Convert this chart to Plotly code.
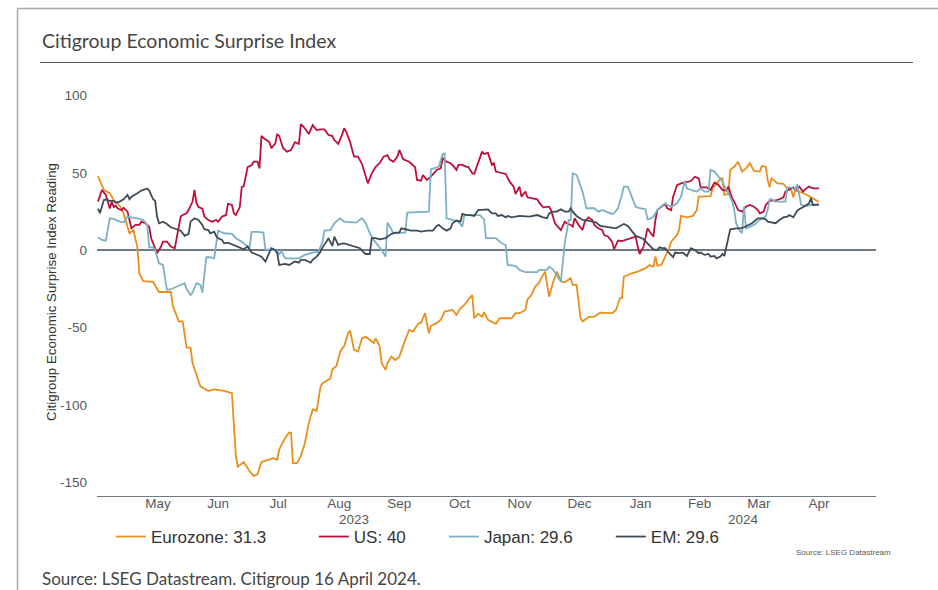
import plotly.graph_objects as go
import pandas as pd

# ---------------- data ----------------
eu_dates = """2023-04-16 2023-04-19 2023-04-22 2023-04-24 2023-04-27 2023-04-29 2023-05-01 2023-05-02 2023-05-04 2023-05-06
2023-05-07 2023-05-09 2023-05-14 2023-05-17 2023-05-23 2023-05-24 2023-05-27 2023-05-29 2023-05-31 2023-06-02
2023-06-03 2023-06-05 2023-06-07 2023-06-11 2023-06-14 2023-06-19 2023-06-23 2023-06-25 2023-06-26 2023-06-29
2023-07-02 2023-07-04 2023-07-06 2023-07-08 2023-07-11 2023-07-14 2023-07-16 2023-07-17 2023-07-20 2023-07-22
2023-07-23 2023-07-24 2023-07-26 2023-07-28 2023-07-30 2023-08-01 2023-08-03 2023-08-05 2023-08-07 2023-08-08
2023-08-12 2023-08-13 2023-08-15 2023-08-17 2023-08-19 2023-08-21 2023-08-22 2023-08-24 2023-08-26 2023-08-28
2023-08-30 2023-09-01 2023-09-03 2023-09-04 2023-09-06 2023-09-07 2023-09-09 2023-09-10 2023-09-12 2023-09-14
2023-09-16 2023-09-19 2023-09-21 2023-09-23 2023-09-24 2023-09-26 2023-09-27 2023-09-29 2023-10-01 2023-10-02
2023-10-05 2023-10-07 2023-10-09 2023-10-13 2023-10-15 2023-10-17 2023-10-19 2023-10-23 2023-10-24 2023-10-26
2023-10-28 2023-10-29 2023-10-31 2023-11-04 2023-11-06 2023-11-12 2023-11-14 2023-11-16 2023-11-19 2023-11-20
2023-11-22 2023-11-24 2023-11-26 2023-11-27 2023-11-29 2023-12-01 2023-12-03 2023-12-05 2023-12-07 2023-12-09
2023-12-12 2023-12-13 2023-12-15 2023-12-17 2023-12-18 2023-12-21 2023-12-24 2023-12-27 2024-01-02 2024-01-04
2024-01-06 2024-01-07 2024-01-08 2024-01-10 2024-01-12 2024-01-15 2024-01-19 2024-01-21 2024-01-23 2024-01-24
2024-01-25 2024-01-27 2024-01-29 2024-01-31 2024-02-01 2024-02-04 2024-02-05 2024-02-06 2024-02-09 2024-02-12
2024-02-14 2024-02-15 2024-02-21 2024-02-22 2024-02-24 2024-02-26 2024-02-27 2024-02-28 2024-03-01 2024-03-02
2024-03-04 2024-03-06 2024-03-08 2024-03-10 2024-03-12 2024-03-14 2024-03-17 2024-03-18 2024-03-20 2024-03-21
2024-03-22 2024-03-23 2024-03-26 2024-03-29 2024-03-31 2024-04-02 2024-04-03 2024-04-04 2024-04-09 2024-04-11
2024-04-13 2024-04-16""".split()
eu_vals = [48, 39, 37, 32.5, 29, 24, 15, 11, 13, 2,
           -15, -20, -20.5, -27, -27, -36, -46, -46, -63, -63,
           -73, -80, -88, -91, -90, -91, -92.5, -133, -140, -137,
           -143, -146, -145, -137, -135.6, -134.5, -135.5, -129, -121.5, -118,
           -118, -137.7, -137.7, -133, -125, -112, -103, -104, -88, -86,
           -83, -77, -75, -65.5, -62, -53.7, -52, -64.4, -65.5, -57,
           -56, -58, -60, -57, -62, -73, -77.4, -73, -68.8, -71,
           -68.8, -58, -51.5, -52.6, -50.4, -47, -47, -40.7, -53.7, -49,
           -47, -45, -39.7, -38.6, -41.8, -37.5, -35.3, -28.9, -44, -41,
           -43, -40, -45, -47.6, -44, -44, -40.7, -40.7, -38.6, -32,
           -29, -23.5, -21, -18, -13.8, -30, -21, -13.8, -20, -20.7,
           -18, -22.4, -22.4, -44, -46, -43.3, -42.9, -40.3, -40.7, -38.6,
           -31, -31, -17, -16, -14.9, -13.8, -11.6, -9.5, -10.6, -4,
           -10, -9.5, -4, 1.3, 5.6, 10, 13, 22.2, 21.3, 22.2,
           26, 34.7, 35.1, 40, 43, 46.5, 46.5, 35.8, 36.4, 52,
           54, 57.3, 50.9, 53, 56.3, 51.3, 50.9, 54.5, 54, 45.5,
           40.7, 46.5, 43.3, 42.9, 40, 39, 34.3, 39, 36.4, 35.1,
           33.6, 31.3]

us_dates = """2023-04-16 2023-04-18 2023-04-19 2023-04-20 2023-04-22 2023-04-23 2023-04-24 2023-04-25 2023-04-26 2023-04-28
2023-04-29 2023-05-01 2023-05-02 2023-05-03 2023-05-05 2023-05-07 2023-05-08 2023-05-10 2023-05-12 2023-05-13
2023-05-15 2023-05-16 2023-05-18 2023-05-19 2023-05-21 2023-05-23 2023-05-25 2023-05-26 2023-05-28 2023-05-29
2023-05-31 2023-06-01 2023-06-03 2023-06-04 2023-06-05 2023-06-06 2023-06-08 2023-06-09 2023-06-11 2023-06-13
2023-06-15 2023-06-16 2023-06-18 2023-06-20 2023-06-21 2023-06-23 2023-06-24 2023-06-25 2023-06-27 2023-06-28
2023-06-29 2023-07-01 2023-07-03 2023-07-04 2023-07-06 2023-07-07 2023-07-08 2023-07-09 2023-07-12 2023-07-13
2023-07-15 2023-07-16 2023-07-17 2023-07-19 2023-07-21 2023-07-23 2023-07-25 2023-07-27 2023-07-28 2023-07-30
2023-08-01 2023-08-03 2023-08-05 2023-08-07 2023-08-09 2023-08-11 2023-08-13 2023-08-14 2023-08-16 2023-08-18
2023-08-19 2023-08-20 2023-08-22 2023-08-24 2023-08-26 2023-08-28 2023-08-30 2023-08-31 2023-09-02 2023-09-04
2023-09-06 2023-09-08 2023-09-10 2023-09-11 2023-09-13 2023-09-15 2023-09-16 2023-09-18 2023-09-21 2023-09-22
2023-09-24 2023-09-25 2023-09-27 2023-09-28 2023-09-30 2023-10-02 2023-10-04 2023-10-05 2023-10-07 2023-10-08
2023-10-10 2023-10-12 2023-10-13 2023-10-15 2023-10-16 2023-10-18 2023-10-20 2023-10-21 2023-10-23 2023-10-24
2023-10-25 2023-10-27 2023-10-28 2023-10-29 2023-10-31 2023-11-02 2023-11-03 2023-11-04 2023-11-07 2023-11-09
2023-11-11 2023-11-13 2023-11-14 2023-11-16 2023-11-17 2023-11-19 2023-11-20 2023-11-22 2023-11-25 2023-11-26
2023-11-28 2023-12-01 2023-12-02 2023-12-04 2023-12-06 2023-12-07 2023-12-09 2023-12-10 2023-12-12 2023-12-13
2023-12-14 2023-12-16 2023-12-18 2023-12-19 2023-12-21 2023-12-23 2023-12-24 2023-12-26 2023-12-28 2023-12-29
2023-12-31 2024-01-02 2024-01-03 2024-01-05 2024-01-07 2024-01-09 2024-01-12 2024-01-14 2024-01-15 2024-01-16
2024-01-18 2024-01-20 2024-01-21 2024-01-23 2024-01-24 2024-01-25 2024-01-27 2024-01-29 2024-01-30 2024-02-01
2024-02-02 2024-02-04 2024-02-06 2024-02-09 2024-02-11 2024-02-13 2024-02-15 2024-02-16 2024-02-19 2024-02-21
2024-02-23 2024-02-25 2024-02-27 2024-02-29 2024-03-01 2024-03-03 2024-03-04 2024-03-06 2024-03-08 2024-03-10
2024-03-12 2024-03-14 2024-03-16 2024-03-17 2024-03-19 2024-03-20 2024-03-22 2024-03-25 2024-03-27 2024-03-29
2024-03-30 2024-04-01 2024-04-03 2024-04-04 2024-04-06 2024-04-08 2024-04-09 2024-04-11 2024-04-13 2024-04-16""".split()
us_vals = [31.5, 39, 37.3, 35.8, 27, 31.5, 28, 29, 27, 26,
           27.5, 25, 19.6, 14.2, 16.4, 16.4, 18.5, 17.5, 15.3, 7.8,
           1.3, -2, 2.4, 5.6, 5.6, 2.4, 1.3, 8.8, 21.8, 22.8,
           23.9, 26, 31.5, 39, 30.4, 28, 27, 21.8, 19.6, 18.5,
           19.6, 18.5, 21.8, 22.8, 30, 29.3, 24, 22.8, 28, 41,
           41.4, 54, 55, 57.3, 57.3, 53, 74, 72.6, 70, 66,
           69, 75.2, 74, 66, 63.8, 64.9, 70, 68.8, 81.7, 78.9,
           75.2, 81, 77.8, 78.2, 78.2, 74.6, 73.9, 71.3, 68.8, 75,
           79, 76.7, 70, 60.6, 60.6, 56, 47.6, 43.3, 49.8, 54,
           56.3, 60.6, 61.6, 58.8, 57.3, 60.6, 64.9, 58.8, 57.3, 56.3,
           53.7, 45.5, 45, 48.7, 45.5, 47.6, 50.9, 52, 53, 59.5,
           57.3, 56.3, 55.2, 52, 55.2, 55.2, 54, 54, 49.8, 49.4,
           53, 60.6, 63.8, 62.3, 63, 55.2, 56.3, 50.9, 50.2, 49.4,
           44.4, 41.2, 36.4, 41.2, 34.7, 38, 34.3, 33.6, 33, 30.8,
           27.8, 28.2, 26, 17.5, 14.2, 13.1, 18.5, 17.5, 16.4, 15.3,
           20.7, 16.4, 13.1, 18, 21.3, 19.6, 16.4, 14.2, 13.1, 9.9,
           8.8, 5.6, 0.6, 6.2, 6.0, 6.7, 7.8, 8.8, 2.4, -2.4,
           2.4, 14.2, 12.1, 8.8, 19.6, 26, 28.2, 30, 27.2, 26,
           34.7, 42.2, 43.3, 44.4, 44.8, 47.6, 46.5, 40.7, 40.7, 39,
           43.8, 42.2, 39, 38.6, 41.2, 33.6, 31.5, 26, 25, 28.2,
           29.3, 28.2, 26, 23.9, 25, 29.3, 32, 32.3, 33, 34.3,
           38, 39.4, 40.7, 39, 41.2, 38, 39.4, 41.2, 40, 40]

jp_dates = """2023-04-16 2023-04-18 2023-04-20 2023-04-22 2023-04-24 2023-04-27 2023-04-29 2023-05-01 2023-05-03 2023-05-06
2023-05-09 2023-05-11 2023-05-12 2023-05-14 2023-05-15 2023-05-17 2023-05-19 2023-05-21 2023-05-23 2023-05-25
2023-05-28 2023-05-30 2023-05-31 2023-06-02 2023-06-03 2023-06-05 2023-06-07 2023-06-08 2023-06-10 2023-06-12
2023-06-14 2023-06-16 2023-06-19 2023-06-23 2023-06-25 2023-06-28 2023-06-30 2023-07-02 2023-07-03 2023-07-06
2023-07-09 2023-07-10 2023-07-13 2023-07-16 2023-07-17 2023-07-18 2023-07-20 2023-07-27 2023-07-30 2023-08-03
2023-08-06 2023-08-08 2023-08-09 2023-08-12 2023-08-14 2023-08-17 2023-08-19 2023-08-25 2023-08-28 2023-08-30
2023-09-01 2023-09-03 2023-09-05 2023-09-07 2023-09-09 2023-09-10 2023-09-11 2023-09-13 2023-09-19 2023-09-20
2023-10-01 2023-10-02 2023-10-06 2023-10-08 2023-10-09 2023-10-10 2023-10-13 2023-10-16 2023-10-18 2023-10-19
2023-10-27 2023-10-29 2023-10-30 2023-11-04 2023-11-07 2023-11-09 2023-11-10 2023-11-14 2023-11-16 2023-11-19
2023-11-25 2023-11-26 2023-11-30 2023-12-01 2023-12-03 2023-12-05 2023-12-07 2023-12-09 2023-12-11 2023-12-12
2023-12-13 2023-12-15 2023-12-17 2023-12-18 2023-12-20 2023-12-24 2023-12-26 2023-12-28 2023-12-30 2024-01-02
2024-01-03 2024-01-05 2024-01-07 2024-01-08 2024-01-10 2024-01-12 2024-01-14 2024-01-16 2024-01-19 2024-01-20
2024-01-22 2024-01-23 2024-01-25 2024-01-27 2024-01-29 2024-01-30 2024-02-01 2024-02-04 2024-02-06 2024-02-08
2024-02-09 2024-02-11 2024-02-14 2024-02-16 2024-02-18 2024-02-20 2024-02-21 2024-02-23 2024-02-25 2024-02-27
2024-02-28 2024-03-01 2024-03-03 2024-03-04 2024-03-05 2024-03-07 2024-03-08 2024-03-09 2024-03-10 2024-03-12
2024-03-14 2024-03-16 2024-03-18 2024-03-20 2024-03-21 2024-03-22 2024-03-23 2024-03-25 2024-03-30 2024-03-31
2024-04-02 2024-04-04 2024-04-05 2024-04-07 2024-04-10 2024-04-12 2024-04-16""".split()
jp_vals = [8.4, 6.7, 6.2, 20.7, 20.3, 18.5, 18.1, 21.8, 21.3, 20.7,
           19.6, 16.4, 1.9, 1.9, 0.2, -8.4, -9.5, -25.6, -25.2, -24,
           -22.4, -21.3, -25.2, -28.9, -27.4, -21.3, -22.4, -27.4, -4.5, -4.5,
           -5.2, 12.7, 11, 10.6, 7.8, 5.6, 3.4, 1.9, 11.9, 11.9,
           11.4, 0.6, 0.2, -0.2, -3, -0.2, -5.2, -5.2, -3, -1.5,
           -0.9, 5.6, 12.7, 13.1, 17.5, 20.7, 18.5, 17.9, 20.7, 17.5,
           11, 6.7, 3.4, 0.2, -4.1, 17.9, 15.7, 11, 11.4, 24.4,
           25, 52.4, 54, 62.3, 62.7, 20.7, 19.6, 18.5, 15.3, 22.8,
           22.8, 20, 7.8, 7.8, 4.5, 3.4, -9.5, -10.1, -12.7, -14.2,
           -14.2, -12.7, -12.7, -10.6, -12.3, -16, -20.3, 4.5, 19.6, 19.6,
           49.8, 48.7, 41.2, 38, 27.2, 27.2, 25, 26, 25, 23.5,
           23.9, 27.2, 35.8, 41.2, 41.2, 34.7, 28.2, 27.2, 26.5, 20,
           20.7, 21.8, 26, 28.2, 30.4, 29.3, 28.2, 30.4, 34.7, 45,
           40, 39, 37.9, 40, 37.9, 37.9, 52, 50.9, 47.6, 44.4,
           41.6, 37.3, 31.5, 26, 17.5, 12.1, 11.4, 28.2, 14.2, 15.3,
           16.4, 18.5, 20.7, 21.8, 26, 33, 33, 31.5, 31.5, 40.7,
           40.7, 38.8, 42.9, 29.3, 28.7, 29.3, 29.6]

em_dates = """2023-04-16 2023-04-17 2023-04-19 2023-04-20 2023-04-22 2023-04-24 2023-04-25 2023-04-27 2023-04-29 2023-05-01
2023-05-02 2023-05-03 2023-05-06 2023-05-08 2023-05-11 2023-05-12 2023-05-14 2023-05-15 2023-05-16 2023-05-17
2023-05-19 2023-05-21 2023-05-23 2023-05-26 2023-05-28 2023-05-30 2023-06-01 2023-06-02 2023-06-04 2023-06-06
2023-06-08 2023-06-09 2023-06-11 2023-06-12 2023-06-14 2023-06-15 2023-06-16 2023-06-18 2023-06-19 2023-06-21
2023-06-24 2023-06-26 2023-06-29 2023-07-01 2023-07-02 2023-07-03 2023-07-05 2023-07-08 2023-07-10 2023-07-12
2023-07-13 2023-07-15 2023-07-16 2023-07-17 2023-07-20 2023-07-22 2023-07-25 2023-07-27 2023-07-28 2023-07-30
2023-08-02 2023-08-03 2023-08-05 2023-08-07 2023-08-08 2023-08-10 2023-08-11 2023-08-13 2023-08-14 2023-08-16
2023-08-17 2023-08-19 2023-08-22 2023-08-24 2023-08-27 2023-08-29 2023-08-30 2023-09-01 2023-09-02 2023-09-04
2023-09-06 2023-09-09 2023-09-10 2023-09-12 2023-09-14 2023-09-16 2023-09-17 2023-09-20 2023-09-22 2023-09-25
2023-09-27 2023-09-30 2023-10-03 2023-10-05 2023-10-06 2023-10-08 2023-10-10 2023-10-12 2023-10-13 2023-10-15
2023-10-17 2023-10-18 2023-10-20 2023-10-22 2023-10-24 2023-10-26 2023-10-29 2023-10-31 2023-11-02 2023-11-04
2023-11-05 2023-11-07 2023-11-09 2023-11-10 2023-11-12 2023-11-16 2023-11-21 2023-11-25 2023-11-28 2023-11-30
2023-12-01 2023-12-03 2023-12-05 2023-12-07 2023-12-09 2023-12-11 2023-12-12 2023-12-13 2023-12-15 2023-12-18
2023-12-21 2023-12-23 2023-12-25 2023-12-27 2023-12-30 2024-01-02 2024-01-04 2024-01-06 2024-01-08 2024-01-10
2024-01-12 2024-01-14 2024-01-16 2024-01-18 2024-01-20 2024-01-22 2024-01-23 2024-01-25 2024-01-26 2024-01-28
2024-01-29 2024-01-31 2024-02-02 2024-02-03 2024-02-05 2024-02-07 2024-02-09 2024-02-11 2024-02-13 2024-02-15
2024-02-16 2024-02-18 2024-02-20 2024-02-21 2024-02-23 2024-02-24 2024-02-26 2024-02-27 2024-02-28 2024-03-01
2024-03-02 2024-03-05 2024-03-07 2024-03-09 2024-03-11 2024-03-13 2024-03-15 2024-03-16 2024-03-18 2024-03-20
2024-03-21 2024-03-24 2024-03-25 2024-03-27 2024-03-29 2024-03-31 2024-04-01 2024-04-03 2024-04-05 2024-04-06
2024-04-08 2024-04-09 2024-04-11 2024-04-12 2024-04-13 2024-04-16""".split()
em_vals = [27, 24, 32.5, 32.9, 32, 32, 30.8, 31.5, 33, 35.8,
           33, 34.7, 36.9, 38.6, 40, 38.6, 33, 32, 21.8, 17.5,
           18.5, 17, 14.9, 13.6, 12.7, 9.3, 10.6, 18.5, 20.7, 19.6,
           16.4, 13.6, 13.1, 11, 12.1, 9.3, 7.8, 6.7, 4.5, 4.9,
           3.4, 2.4, 0.6, 2.4, 0.2, -1.5, -2.4, -4.1, -7.3, -0.9,
           1.3, 0.2, -1.9, -9.5, -8.8, -9.5, -7.3, -8, -6.2, -6.2,
           -8, -6.2, -4.1, -0.9, 1.9, 5.6, 7.8, 2.8, 8.8, 3.4,
           4.1, 4.5, 3.4, 2.8, 1.3, -1.5, -2.4, -2.4, 7.8, 7.8,
           7.1, 7.8, 8.8, 10.6, 11.4, 11.4, 14.2, 13.1, 12.7, 12.7,
           12.1, 12.7, 12.7, 15.7, 16.4, 14.2, 12.7, 14.2, 17.5, 19.2,
           18.5, 23.5, 22.8, 22.8, 22.2, 26, 26.5, 26.5, 23.9, 23.9,
           22.2, 22.8, 21.3, 22.2, 21.3, 22.2, 21.8, 22.8, 21.3, 20.7,
           23.9, 25, 25, 26.5, 25, 25, 27.2, 25, 22.2, 19.6,
           19.2, 18.5, 17.9, 15.7, 15.3, 14.9, 14.2, 15.7, 17, 15.7,
           12.1, 9.3, 8.4, 7.1, 4.5, 1.9, 0.6, 0.2, 1.9, 1.3,
           1.3, -1.9, -4.5, -1.5, -1.9, -1.5, -3.7, 1.3, 0.2, -1.9,
           -1.5, -3, -2.4, -4.1, -3.7, -5.2, -4.1, -2.4, -3.7, 7.8,
           13.6, 14.2, 14.2, 14.9, 16.4, 17.5, 19.6, 20.7, 20.7, 20,
           18.5, 17.9, 17.5, 19.6, 21.3, 21.8, 22.8, 21.3, 25.6, 26.5,
           27.8, 28.7, 30.4, 33.6, 29.3, 29.6]

series_names = ["Eurozone: 31.3", "US: 40", "Japan: 29.6", "EM: 29.6"]
series_colors = ["#EA8F1E", "#BE0F3C", "#7DB0C6", "#3E4C58"]
month_labels = ["May", "Jun", "Jul", "Aug", "Sep", "Oct", "Nov", "Dec", "Jan", "Feb", "Mar", "Apr"]
first_month = "2023-05-01"
year_labels = ["2023", "2024"]
year_break = "2024-01-01"
y_ticks = [-150, -100, -50, 0, 50, 100]
y_tick_labels = ["-150", "-100", "-50", "0", "50", "100"]
x_range = ["2023-04-15 12:00", "2024-05-15"]
y_range = [-159, 105]

title_text = "Citigroup Economic Surprise Index"
y_title = "Citigroup Economic Surprise Index Reading"
small_source = "Source: LSEG Datastream"
footer = "Source: LSEG Datastream. Citigroup 16 April 2024."

# ---------------- layout geometry ----------------
FW, FH = 938, 590
L, R, T, B = 97, 62, 88, 94
PW, PH = FW - L - R, FH - T - B


def fx(p):
    return (p - L) / PW


def fy(p):
    return (FH - B - p) / PH


TICK_FONT = dict(family="Liberation Sans, Arial, sans-serif", size=13.5, color="#595959")
CAL_FONT = "Lato, 'Open Sans', sans-serif"

fig = go.Figure()
pad = ["\u00a0" * 9, "\u00a0" * 7, "\u00a0" * 7, ""]
for dts, vals, name, col, p in zip([eu_dates, us_dates, jp_dates, em_dates],
                                   [eu_vals, us_vals, jp_vals, em_vals],
                                   series_names, series_colors, pad):
    fig.add_trace(go.Scatter(x=pd.to_datetime(dts), y=vals, mode="lines", name=name + p,
                             line=dict(color=col, width=1.8)))

month_starts = pd.date_range(first_month, periods=len(month_labels) + 1, freq="MS")
tick_pos = [month_starts[i] + (month_starts[i + 1] - month_starts[i]) / 2 for i in range(len(month_labels))]

xr0, xr1, yb = pd.Timestamp(x_range[0]), pd.Timestamp(x_range[1]), pd.Timestamp(year_break)
year_pos = [xr0 + (yb - xr0) / 2, yb + (xr1 - yb) / 2]

annotations = []
for lab, pos in zip(year_labels, year_pos):
    annotations.append(dict(x=pos, y=fy(519), xref="x", yref="paper", text=lab, showarrow=False,
                            xanchor="center", yanchor="middle", font=TICK_FONT))
annotations += [
    dict(x=fx(40), y=fy(41), xref="paper", yref="paper", text=title_text, showarrow=False,
         xanchor="left", yanchor="middle", font=dict(family=CAL_FONT, size=19.5, color="#454545")),
    dict(x=fx(893), y=fy(552), xref="paper", yref="paper", text=small_source, showarrow=False,
         xanchor="right", yanchor="middle",
         font=dict(family="Liberation Sans, Arial, sans-serif", size=8, color="#595959")),
    dict(x=fx(40), y=fy(578), xref="paper", yref="paper", text=footer, showarrow=False,
         xanchor="left", yanchor="middle", font=dict(family=CAL_FONT, size=17, color="#454545")),
]

shapes = [
    dict(type="line", xref="paper", yref="paper", x0=fx(40), x1=fx(913), y0=fy(62.5), y1=fy(62.5),
         line=dict(color="#595959", width=1)),
    dict(type="line", xref="paper", yref="paper", x0=fx(17.5), x1=fx(940), y0=fy(8.5), y1=fy(8.5),
         line=dict(color="#A6A6A6", width=1.5)),
    dict(type="line", xref="paper", yref="paper", x0=fx(17.5), x1=fx(17.5), y0=fy(8.5), y1=fy(592),
         line=dict(color="#A6A6A6", width=1.5)),
]

fig.update_layout(
    width=FW, height=FH,
    margin=dict(l=L, r=R, t=T, b=B, autoexpand=False),
    paper_bgcolor="white", plot_bgcolor="white",
    showlegend=True,
    legend=dict(orientation="h", x=fx(111), y=fy(537), xanchor="left", yanchor="middle",
                font=dict(family="Liberation Sans, Arial, sans-serif", size=17, color="#333333"),
                bgcolor="rgba(0,0,0,0)", itemclick=False),
    annotations=annotations,
    shapes=shapes,
    xaxis=dict(type="date", range=x_range, tickvals=tick_pos, ticktext=month_labels,
               showgrid=False, zeroline=False, showline=True, linecolor="#6F7A83", linewidth=1.2,
               ticks="", tickfont=TICK_FONT, ticklabelstandoff=-5, fixedrange=True),
    yaxis=dict(range=y_range, tickvals=y_ticks, ticktext=y_tick_labels, showgrid=False,
               showline=False, ticks="",
               zeroline=True, zerolinecolor="#6F7A83", zerolinewidth=1.5,
               tickfont=TICK_FONT, ticklabelstandoff=9,
               title=dict(text=y_title, standoff=0,
                          font=dict(family="Liberation Sans, Arial, sans-serif", size=13.3,
                                    color="#333333")),
               fixedrange=True),
)

# remove the browser's default 8px page margin so the figure sits at the window's top-left
fig.write_html("out.html", config={"displayModeBar": False},
               post_script="document.body.style.margin='0';")
